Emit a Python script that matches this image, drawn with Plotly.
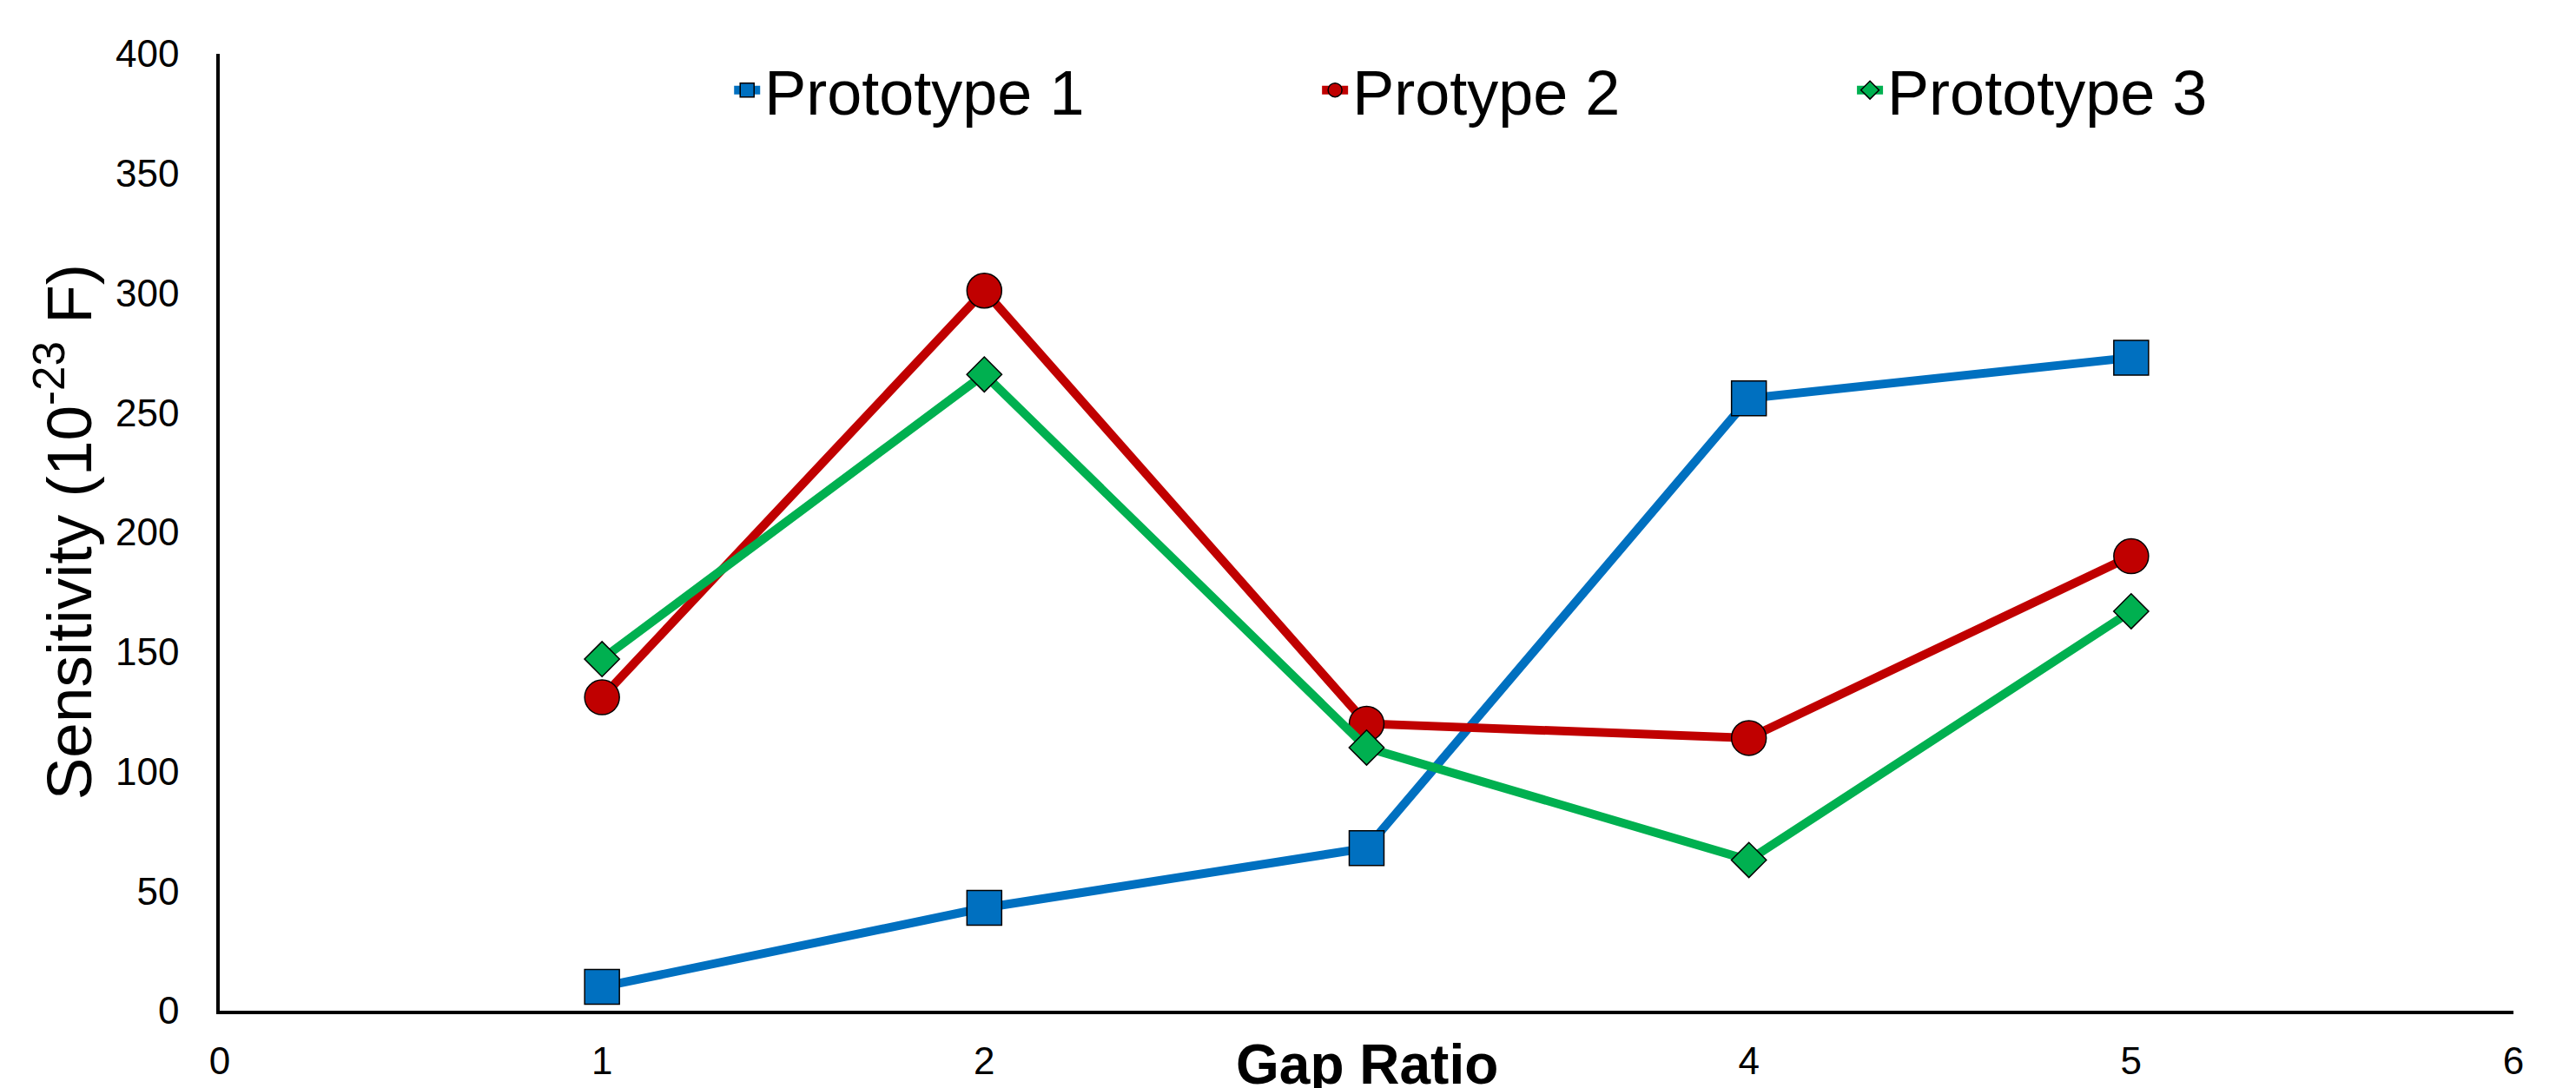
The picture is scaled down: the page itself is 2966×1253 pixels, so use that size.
import plotly.graph_objects as go

gap_ratio = [1, 2, 3, 4, 5]
prototype1 = [10, 43, 68, 256, 273]
protype2 = [131, 301, 120, 114, 190]
prototype3 = [147, 266, 110, 63, 167]

x_tickvals = [0, 1, 2, 4, 5, 6]
y_tickvals = [0, 50, 100, 150, 200, 250, 300, 350, 400]

FONT = "Liberation Sans, Arial, sans-serif"

fig = go.Figure()
series = [
    ("Prototype 1", prototype1, "#0070C0", "square", 40, "legend"),
    ("Protype 2", protype2, "#C00000", "circle", 40, "legend2"),
    ("Prototype 3", prototype3, "#00B050", "diamond", 31, "legend3"),
]
for name, vals, col, sym, sz, lg in series:
    fig.add_trace(go.Scatter(
        x=gap_ratio, y=vals, name=name, mode="lines+markers",
        line=dict(color=col, width=10),
        marker=dict(symbol=sym, size=sz, color=col, line=dict(color="black", width=1.5)),
        legend=lg,
    ))

W, H = 2966, 1253
L, R, T, B = 252.7, 72, 62, 89
pw = W - L - R

def lx(px):
    return (px - 6 - L) / pw

leg_common = dict(orientation="h", yanchor="middle", y=0.962, xanchor="left",
                  font=dict(family=FONT, size=72, color="black"),
                  bgcolor="rgba(0,0,0,0)", borderwidth=0)

fig.update_layout(
    width=W, height=H,
    margin=dict(l=L, r=R, t=T, b=B, autoexpand=False),
    paper_bgcolor="white", plot_bgcolor="white",
    font=dict(family=FONT, color="black"),
    showlegend=True,
    legend=dict(x=lx(846), **leg_common),
    legend2=dict(x=lx(1523), **leg_common),
    legend3=dict(x=lx(2139), **leg_common),
    xaxis=dict(range=[0, 6], tickvals=x_tickvals, showgrid=False, zeroline=False,
               showline=True, linecolor="black", linewidth=3.5, ticks="",
               ticklabelstandoff=16, automargin=False,
               tickfont=dict(family=FONT, size=44, color="black")),
    yaxis=dict(range=[0, 400], tickvals=y_tickvals, showgrid=False, zeroline=False,
               showline=True, linecolor="black", linewidth=3.5, ticks="",
               ticklabelstandoff=34, automargin=False,
               tickfont=dict(family=FONT, size=44, color="black")),
    annotations=[
        dict(text="<b>Gap Ratio</b>", xref="paper", yref="paper", x=0.5, y=0,
             xanchor="center", yanchor="middle", yshift=-62, showarrow=False,
             font=dict(family=FONT, size=64, color="black")),
        dict(text="Sensitivity (10<sup>-23</sup> F)", xref="paper", yref="paper",
             x=(74 - L) / pw, y=0.5, xanchor="center", yanchor="middle",
             textangle=-90, showarrow=False,
             font=dict(family=FONT, size=73, color="black")),
    ],
)

fig.write_html("out.html", config={"displayModeBar": False},
               post_script="document.body.style.margin='0';document.body.style.overflow='hidden';")
